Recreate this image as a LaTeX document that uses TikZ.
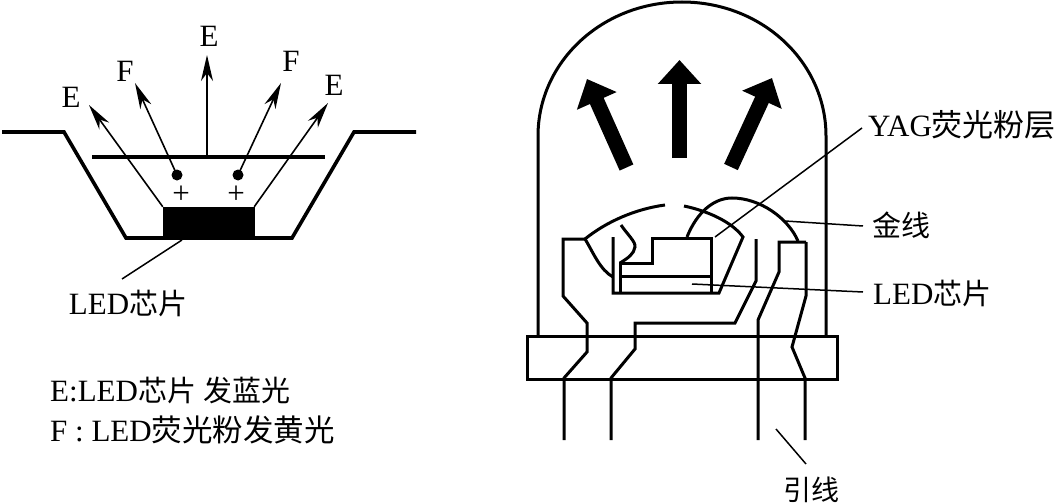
\documentclass[tikz,border=0pt]{standalone}
\usepackage{fontspec}
\setmainfont{Liberation Serif}
\newfontfamily\cjk{Noto Sans CJK SC}
\newcommand{\zh}[2]{{\cjk\fontsize{#1}{33}\selectfont #2}}
\usetikzlibrary{arrows.meta}

\begin{document}
\begin{tikzpicture}[x=1pt, y=-1pt,
    wall/.style={line width=3.6pt, line join=miter},
    lead/.style={line width=3pt, line join=miter},
    thin line/.style={line width=1.5pt},
    ray/.style={line width=1.6pt, -{Stealth[length=26pt, width=12pt, inset=8pt]}},
    bigarrow/.style={line width=15pt, -{Triangle[length=24pt, width=42pt]}},
    lbl/.style={inner sep=0pt, font=\fontsize{31}{33}\selectfont}]
  \useasboundingbox (0,0) rectangle (1058,503);

  % left: reflector cup
  \draw[wall] (2,132) -- (64,132) -- (126,238) -- (292,238) -- (354,132) -- (416,132);
  \node (chip) [at={(208.5,223)}, draw, fill=black, minimum width=91pt, minimum height=32pt, inner sep=0pt] {};
  \draw[wall] (92,157) coordinate (layerl) -- (325,157) coordinate (layerr);
  \coordinate (layerc) at (207,157);
  \node (dotl) [at={(177,175)}, circle, fill=black, minimum size=11pt, inner sep=0pt] {};
  \node (dotr) [at={(238,175)}, circle, fill=black, minimum size=11pt, inner sep=0pt] {};
  \node (plusl) [lbl, at={(181,195)}] {+};
  \node (plusr) [lbl, at={(236,195)}] {+};
  \coordinate (tipel) at (89,105);
  \coordinate (tipfl) at (135,83);
  \coordinate (tipec) at (207,55);
  \coordinate (tipfr) at (281,83);
  \coordinate (tiper) at (328,103);
  \foreach \a/\b in {chip.north west/tipel,dotl.center/tipfl,layerc/tipec,
                     dotr.center/tipfr,chip.north east/tiper}
    \draw[ray] (\a) -- (\b);
  \node (lblel) [lbl, at={(71,97)}] {E};
  \node (lblfl) [lbl, at={(125,71)}] {F};
  \node (lblec) [lbl, at={(209,36)}] {E};
  \node (lblfr) [lbl, at={(291,61)}] {F};
  \node (lbler) [lbl, at={(334,85)}] {E};
  \node (lblchipl) [lbl, at={(128,303)}] {LED\zh{29}{芯片}};
  \coordinate (chipfoot) at (182,240);
  \coordinate (chiptail) at (122,279);
  \draw[thin line] (chiptail) -- (chipfoot);

  % legend
  \node (lege) [lbl, anchor=west, at={(50,390)}] {E:LED\zh{29}{芯片} \zh{29}{发蓝光}};
  \node (legf) [lbl, anchor=west, at={(50,430)}] {F : LED\zh{30.5}{荧光粉发黄光}};

  % right: lamp body
  \draw[line width=3pt] (538,336) -- (538,136) .. controls (538,62) and (602,2) .. (682,2)
    .. controls (762,2) and (826,62) .. (826,136) -- (826,336);
  \node (base) [at={(682,357.5)}, draw, line width=3pt, minimum width=310pt, minimum height=43pt, inner sep=0pt] {};

  \coordinate (taill) at (626.5,167.5);
  \coordinate (tipl) at (587,79);
  \coordinate (tailc) at (679.5,158);
  \coordinate (tipc) at (679.5,60);
  \coordinate (tailr) at (731,167);
  \coordinate (tipr) at (772,78);
  \foreach \a/\b in {taill/tipl,tailc/tipc,tailr/tipr}
    \draw[bigarrow] (\a) -- (\b);

  % leads
  \draw[lead] (585,239) -- (563,239) -- (563,296) -- (587,323) -- (587,352) -- (564,378) -- (564,440);
  \draw[lead] (756,239) -- (756,281) -- (735,323) -- (635,323) -- (635,349) -- (611,378) -- (611,440);
  \draw[lead] (806,242) -- (779,242) -- (779,272) -- (758,320) -- (758,440);
  \draw[lead] (806,242) -- (806,296) -- (792,347) -- (805,378) -- (805,440);

  % cup and chip
  \draw[lead] (585,239) .. controls (606,222) and (635,209) .. (665,205);
  \draw[lead] (684,206) .. controls (708,211) and (732,222) .. (743,237) -- (719,293) -- (613,293) -- (613,237);
  \draw[lead] (585,239) .. controls (593,252) and (600,270) .. (613,277);
  \draw[lead] (620,293) -- (620,263) -- (652,263) -- (652,238) -- (711,238) -- (711,293);
  \draw[lead] (620,276) -- (711,276);
  \draw[lead] (621,225) .. controls (627,234) and (636,242) .. (635,247) .. controls (634,254) and (628,258) .. (620,263);
  \draw[lead] (687,237) .. controls (697,212) and (714,198) .. (732,198) .. controls (760,198) and (788,218) .. (798,241);

  % callouts
  \node (lblyag) [lbl, anchor=west, at={(868,125)}] {YAG\zh{31}{荧光粉层}};
  \node (lblgold) [lbl, anchor=west, at={(872,225)}] {\zh{29}{金线}};
  \node (lblled) [lbl, anchor=west, at={(873,293)}] {LED\zh{29}{芯片}};
  \node (lblwire) [lbl, at={(811,490)}] {\zh{28}{引线}};
  \coordinate (yagend) at (715,237);
  \coordinate (yagtail) at (862,128);
  \coordinate (goldend) at (785,221);
  \coordinate (goldtail) at (863,226);
  \coordinate (ledend) at (692,284);
  \coordinate (ledtail) at (863,292);
  \coordinate (wireend) at (776,429);
  \coordinate (wiretail) at (806,464);
  \foreach \a/\b in {yagtail/yagend,goldtail/goldend,ledtail/ledend,wiretail/wireend}
    \draw[thin line] (\a) -- (\b);
\end{tikzpicture}
\end{document}
